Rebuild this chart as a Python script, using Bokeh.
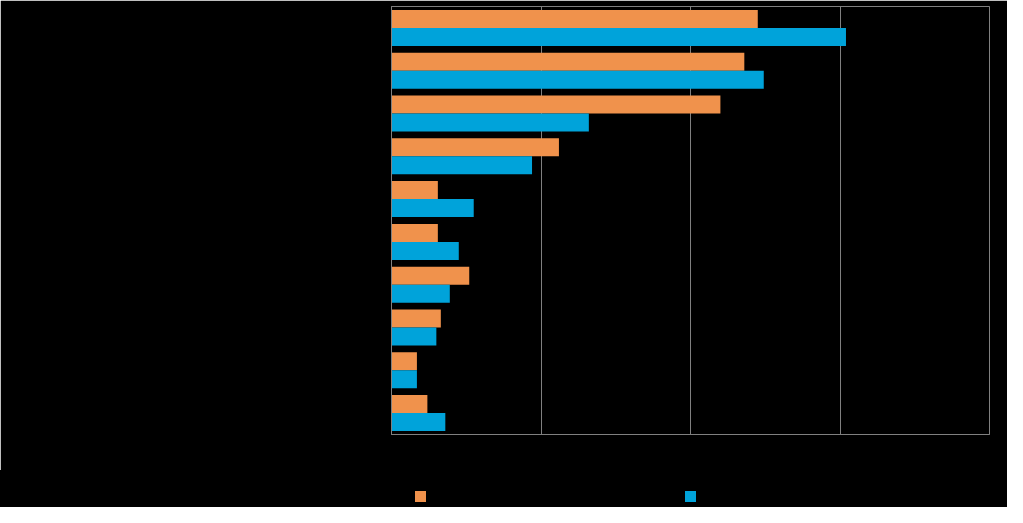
from bokeh.plotting import figure
from bokeh.layouts import column
from bokeh.models import FactorRange, Range1d, FixedTicker, ColumnDataSource, Div
from bokeh.transform import dodge
from bokeh.embed import file_html
from bokeh.resources import INLINE

categories = ["1", "2", "3", "4", "5", "6", "7", "8", "9", "10"]
series_a = [24.5, 23.6, 22.0, 11.2, 3.1, 3.1, 5.2, 3.3, 1.7, 2.4]
series_b = [30.4, 24.9, 13.2, 9.4, 5.5, 4.5, 3.9, 3.0, 1.7, 3.6]
series_names = ["Series 1", "Series 2"]
x_ticks = [0, 10, 20, 30, 40]

ORANGE = "#F0924C"
BLUE = "#00A3DA"
GRAY = "#808080"
series_colors = [ORANGE, BLUE]

src = ColumnDataSource(dict(cat=categories, a=series_a, b=series_b))

p = figure(width=1007, height=470, output_backend="svg", toolbar_location=None,
           y_range=FactorRange(factors=list(reversed(categories)), range_padding=0),
           x_range=Range1d(0, 40),
           min_border_left=391, min_border_right=18, min_border_top=6, min_border_bottom=36,
           background_fill_color="black", border_fill_color="black")

p.hbar(y=dodge("cat", 0.21, range=p.y_range), right="a", left=0, height=0.42,
       source=src, color=series_colors[0], line_color=None)
p.hbar(y=dodge("cat", -0.21, range=p.y_range), right="b", left=0, height=0.42,
       source=src, color=series_colors[1], line_color=None)

p.outline_line_color = GRAY
p.outline_line_width = 1
p.ygrid.grid_line_color = None
p.xgrid.grid_line_color = GRAY
p.xaxis.ticker = FixedTicker(ticks=x_ticks)
for ax in (p.xaxis, p.yaxis):
    ax.axis_line_color = GRAY
    ax.major_tick_line_color = None
    ax.minor_tick_line_color = None
    ax.major_label_text_color = "black"
    ax.major_label_text_font = "Liberation Sans"

# legend strip as HTML
item_left = [415, 685]
html = '<div style="position:relative;width:1007px;height:37px;background:#000;">'
for left, name, col in zip(item_left, series_names, series_colors):
    html += (f'<span style="position:absolute;left:{left}px;top:21px;width:11px;height:11px;'
             f'background:{col};"></span>'
             f'<span style="position:absolute;left:{left + 16}px;top:20px;'
             f'font:9px \'Liberation Sans\';color:#000;white-space:nowrap;">{name}</span>')
html += '</div>'
lg = Div(text=html, width=1007, height=37, margin=0, styles={"background-color": "black"})

layout = column(p, lg, spacing=0)
open("out.html", "w").write(file_html(layout, INLINE))
